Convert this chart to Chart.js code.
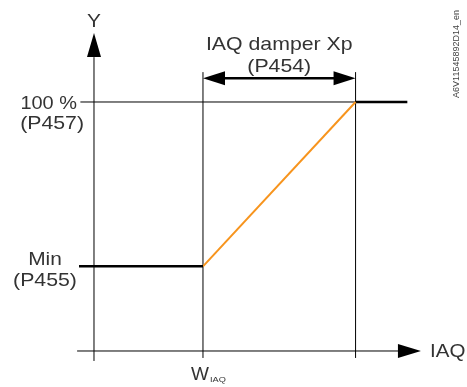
<!DOCTYPE html>
<html lang="en">
<head>
  <meta charset="UTF-8">
  <title>IAQ damper</title>
  <script src="https://cdn.jsdelivr.net/npm/chart.js"></script>
  <style>
    html, body { margin: 0; padding: 0; background: #fff; overflow: hidden; }
    .chart-container { width: 467px; height: 387px; }
  </style>
</head>
<body>
<div class="chart-container">
  <canvas id="iaqChart" width="467" height="387"></canvas>
</div>

<script>
// IAQ units on x, damper % on y
const wIaq = 40;          // W IAQ
const xpEnd = 96;         // W IAQ + Xp (P454)
const minPos = 34;        // Min (P455)
const maxPos = 100;       // 100 % (P457)

const minLineX = [-5.5, wIaq];
const minLineY = [minPos, minPos];
const rampX = [wIaq, xpEnd];
const rampY = [minPos, maxPos];
const topLineX = [xpEnd, 115];
const topLineY = [maxPos, maxPos];

const labelY = 'Y';
const labelX = 'IAQ';
const labelTop = ['100 %', '(P457)'];
const labelMin = ['Min', '(P455)'];
const labelXp = ['IAQ damper Xp', '(P454)'];
const labelW = ['W', 'IAQ'];
const docId = 'A6V11545892D14_en';

const toPts = (xs, ys) => xs.map((x, i) => ({ x, y: ys[i] }));

const INK = '#000';
const TXT = '#333';
const FONT = '"Liberation Sans", Arial, sans-serif';

function arrowHead(ctx, tipX, tipY, dir, len, half) {
  // dir: 'up' | 'right' | 'left'
  ctx.beginPath();
  ctx.moveTo(tipX, tipY);
  if (dir === 'up') {
    ctx.lineTo(tipX - half, tipY + len);
    ctx.lineTo(tipX + half, tipY + len);
  } else if (dir === 'right') {
    ctx.lineTo(tipX - len, tipY - half);
    ctx.lineTo(tipX - len, tipY + half);
  } else {
    ctx.lineTo(tipX + len, tipY - half);
    ctx.lineTo(tipX + len, tipY + half);
  }
  ctx.closePath();
  ctx.fill();
}

// slightly wide lettering like the original drawing
function label(ctx, text, x, y, align, size, sx) {
  ctx.save();
  ctx.translate(x, y);
  ctx.scale(sx || 1.1, 1);
  ctx.font = size + 'px ' + FONT;
  ctx.textAlign = align;
  ctx.textBaseline = 'middle';
  ctx.fillText(text, 0, 0);
  ctx.restore();
}

const diagramPlugin = {
  id: 'diagram',
  beforeDatasetsDraw(chart) {
    const { ctx, scales: { x, y } } = chart;
    const px = v => x.getPixelForValue(v);
    const py = v => y.getPixelForValue(v);
    ctx.save();
    ctx.strokeStyle = INK;
    ctx.fillStyle = INK;
    ctx.lineWidth = 1;

    // axes
    ctx.beginPath();
    ctx.moveTo(px(0), py(-4));
    ctx.lineTo(px(0), py(118));
    ctx.moveTo(px(-6.2), py(0));
    ctx.lineTo(px(113), py(0));
    // reference lines
    ctx.moveTo(px(-5), py(maxPos));
    ctx.lineTo(px(xpEnd), py(maxPos));
    ctx.moveTo(px(wIaq), py(-2.8));
    ctx.lineTo(px(wIaq), py(112));
    ctx.moveTo(px(xpEnd), py(-2.8));
    ctx.lineTo(px(xpEnd), py(112));
    ctx.stroke();

    arrowHead(ctx, px(0), py(127.7), 'up', 24, 7);
    arrowHead(ctx, px(120), py(0), 'right', 23, 7);

    // Xp dimension arrow
    const ay = py(109.5);
    ctx.lineWidth = 2.5;
    ctx.beginPath();
    ctx.moveTo(px(wIaq) + 18, ay);
    ctx.lineTo(px(xpEnd) - 18, ay);
    ctx.stroke();
    arrowHead(ctx, px(wIaq), ay, 'left', 22, 7);
    arrowHead(ctx, px(xpEnd), ay, 'right', 22, 7);

    // texts
    ctx.fillStyle = TXT;
    const mid = (px(wIaq) + px(xpEnd)) / 2;
    label(ctx, labelY, px(0), 22, 'center', 19);
    label(ctx, labelXp[0], mid, 45, 'center', 19, 1.12);
    label(ctx, labelXp[1], mid, 67, 'center', 19, 1.12);
    label(ctx, labelMin[0], 45, 260, 'center', 19);
    label(ctx, labelMin[1], 45, 281, 'center', 19, 1.12);
    label(ctx, labelTop[0], 77, 104, 'right', 19, 1.05);
    label(ctx, labelTop[1], 84, 124, 'right', 19, 1.12);
    label(ctx, labelX, 430, py(0) + 1, 'left', 19, 1.08);
    label(ctx, labelW[0], 191, 375, 'left', 19, 1.0);
    label(ctx, labelW[1], 210, 380, 'left', 8, 1.15);

    ctx.translate(457, 54);
    ctx.rotate(-Math.PI / 2);
    ctx.textAlign = 'center';
    ctx.textBaseline = 'middle';
    ctx.font = '9px ' + FONT;
    ctx.fillStyle = '#444';
    ctx.fillText(docId, 0, 0);
    ctx.restore();
  }
};

const ctx = document.getElementById('iaqChart').getContext('2d');
new Chart(ctx, {
  type: 'scatter',
  data: {
    datasets: [
      { data: toPts(minLineX, minLineY), borderColor: INK, borderWidth: 2.5, showLine: true, pointRadius: 0 },
      { data: toPts(rampX, rampY), borderColor: '#f7941d', borderWidth: 2, showLine: true, pointRadius: 0 },
      { data: toPts(topLineX, topLineY), borderColor: INK, borderWidth: 2.5, showLine: true, pointRadius: 0 }
    ]
  },
  options: {
    responsive: false,
    maintainAspectRatio: false,
    animation: false,
    layout: { padding: 0 },
    plugins: { legend: { display: false }, tooltip: { enabled: false } },
    scales: {
      x: { type: 'linear', display: false, min: -34.5, max: 136.9 },
      y: { type: 'linear', display: false, min: -14.46, max: 140.96 }
    }
  },
  plugins: [diagramPlugin]
});
</script>
</body>
</html>
